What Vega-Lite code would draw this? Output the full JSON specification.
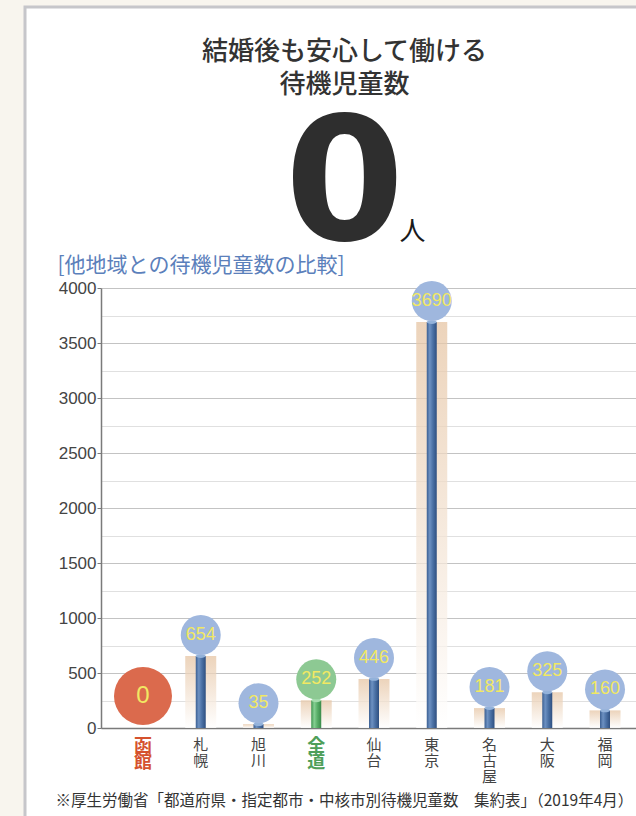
{
  "$schema": "https://vega.github.io/schema/vega-lite/v6.json",
  "autosize": {"type": "none"},
  "width": 615,
  "height": 813,
  "padding": {"left": 25, "top": 7, "right": -4, "bottom": -4},
  "background": "#f8f5ee",
  "config": {"view": {"fill": "#ffffff", "stroke": "#c6c6ca", "strokeWidth": 3}},
  "title": {
    "text": ["結婚後も安心して働ける", "待機児童数"],
    "subtitle": "0",
    "anchor": "middle",
    "frame": "group",
    "orient": "top",
    "dx": 12,
    "offset": -267,
    "font": "Noto Sans CJK JP",
    "fontSize": 26,
    "fontWeight": 500,
    "color": "#333333",
    "lineHeight": 33,
    "subtitleFont": "DejaVu Sans",
    "subtitleFontSize": 172,
    "subtitleFontWeight": "bold",
    "subtitleColor": "#2e2e2e",
    "subtitlePadding": 6,
    "subtitleLineHeight": 150
  },
  "data": {
    "values": [
      {"city": "函館", "value": 0},
      {"city": "札幌", "value": 654},
      {"city": "旭川", "value": 35},
      {"city": "全道", "value": 252},
      {"city": "仙台", "value": 446},
      {"city": "東京", "value": 3690},
      {"city": "名古屋", "value": 181},
      {"city": "大阪", "value": 325},
      {"city": "福岡", "value": 160}
    ]
  },
  "encoding": {
    "x": {
      "field": "city",
      "type": "nominal",
      "sort": null,
      "scale": {"range": [76, 622], "paddingInner": 0, "paddingOuter": 0.227},
      "axis": {
        "orient": "bottom",
        "offset": -92,
        "domainColor": "#7a7a7a",
        "domainWidth": 1.5,
        "ticks": false,
        "grid": false,
        "labelAngle": 0,
        "labelOverlap": false,
        "labelExpr": "split(datum.label, '')",
        "labelFont": "Noto Sans CJK JP",
        "labelFontSize": {"condition": {"test": "datum.value === '函館' || datum.value === '全道'", "value": 18}, "value": 15},
        "labelFontWeight": {"condition": {"test": "datum.value === '函館' || datum.value === '全道'", "value": "bold"}, "value": "normal"},
        "labelColor": {"condition": [{"test": "datum.value === '函館'", "value": "#d5522e"}, {"test": "datum.value === '全道'", "value": "#4f9f5a"}], "value": "#444444"},
        "labelLineHeight": 16,
        "labelPadding": 9,
        "labelBaseline": "top",
        "title": "※厚生労働省「都道府県・指定都市・中核市別待機児童数　集約表」（2019年4月）",
        "titleX": 30,
        "titleY": 72,
        "titleAlign": "left",
        "titleAnchor": "start",
        "titleBaseline": "middle",
        "titleFont": "Noto Sans CJK JP",
        "titleFontSize": 15.5,
        "titleFontWeight": "normal",
        "titleColor": "#333333"
      }
    }
  },
  "layer": [
    {
      "mark": {
        "type": "bar",
        "width": 31,
        "opacity": 0.75,
        "fill": {"gradient": "linear", "x1": 0, "y1": 0, "x2": 0, "y2": 1, "stops": [{"offset": 0, "color": "#e6c5a4"}, {"offset": 1, "color": "#ffffff"}]}
      },
      "encoding": {
        "y": {
          "field": "value",
          "type": "quantitative",
          "scale": {"domain": [0, 4000], "range": [721, 281], "nice": false, "zero": true},
          "axis": {
            "orient": "left",
            "offset": -76,
            "values": [0, 250, 500, 750, 1000, 1250, 1500, 1750, 2000, 2250, 2500, 2750, 3000, 3250, 3500, 3750, 4000],
            "format": "d",
            "labelExpr": "datum.value % 500 === 0 ? datum.label : ''",
            "labelOverlap": false,
            "grid": true,
            "gridColor": {"condition": {"test": "datum.value % 500 === 0", "value": "#c3c3c3"}, "value": "#e0e0e0"},
            "gridWidth": 1.2,
            "domainColor": "#7a7a7a",
            "domainWidth": 1.5,
            "tickColor": "#7a7a7a",
            "tickSize": 4,
            "tickOpacity": {"condition": {"test": "datum.value % 500 === 0", "value": 1}, "value": 0},
            "labelFont": "Liberation Sans",
            "labelFontSize": 17,
            "labelColor": "#444444",
            "labelPadding": 1,
            "title": "[他地域との待機児童数の比較]",
            "titleX": -44,
            "titleY": 258,
            "titleAngle": 0,
            "titleAlign": "left",
            "titleBaseline": "middle",
            "titleFont": "Noto Sans CJK JP",
            "titleFontSize": 21,
            "titleFontWeight": "normal",
            "titleColor": "#5b80bb"
          }
        }
      }
    },
    {
      "transform": [{"filter": "datum.value > 0"}],
      "mark": {"type": "bar", "width": 10},
      "encoding": {
        "y": {
          "field": "value",
          "type": "quantitative",
          "axis": {
            "orient": "left",
            "offset": 0,
            "domain": false,
            "ticks": false,
            "labels": false,
            "grid": false,
            "title": "人",
            "titleX": 387,
            "titleY": 224,
            "titleAngle": 0,
            "titleAlign": "center",
            "titleBaseline": "middle",
            "titleFont": "Noto Sans CJK JP",
            "titleFontSize": 26,
            "titleFontWeight": "normal",
            "titleColor": "#1a1a1a"
          }
        },
        "color": {
          "condition": {
            "test": "datum.city === '全道'",
            "value": {"gradient": "linear", "x1": 0, "y1": 0, "x2": 1, "y2": 0, "stops": [{"offset": 0, "color": "#3e9450"}, {"offset": 0.3, "color": "#86cf92"}, {"offset": 0.6, "color": "#5bb06a"}, {"offset": 1, "color": "#3a8a4a"}]}
          },
          "value": {"gradient": "linear", "x1": 0, "y1": 0, "x2": 1, "y2": 0, "stops": [{"offset": 0, "color": "#3b5f92"}, {"offset": 0.3, "color": "#6d91c2"}, {"offset": 0.6, "color": "#4c72a6"}, {"offset": 1, "color": "#2e4f80"}]}
        }
      }
    },
    {
      "transform": [{"filter": "datum.value > 0"}],
      "mark": {"type": "point", "shape": "M-1,0A1,0.38,0,1,0,1,0A1,0.38,0,1,0,-1,0Z", "size": 100, "filled": true, "opacity": 1},
      "encoding": {
        "y": {"field": "value", "type": "quantitative", "axis": null},
        "color": {"condition": {"test": "datum.city === '全道'", "value": "#a5dcae"}, "value": "#93b2da"}
      }
    },
    {
      "transform": [{"filter": "datum.city !== '函館'"}],
      "mark": {"type": "point", "shape": "circle", "size": 1600, "filled": true, "opacity": 1, "yOffset": -21},
      "encoding": {
        "y": {"field": "value", "type": "quantitative", "axis": null},
        "color": {"condition": {"test": "datum.city === '全道'", "value": "#8dc993"}, "value": "#9fb7de"}
      }
    },
    {
      "transform": [{"filter": "datum.city === '函館'"}],
      "mark": {"type": "point", "shape": "circle", "size": 3364, "filled": true, "opacity": 1, "yOffset": -32, "color": "#db6a4d"},
      "encoding": {
        "y": {"field": "value", "type": "quantitative", "axis": null}
      }
    },
    {
      "transform": [{"filter": "datum.city !== '函館'"}],
      "mark": {"type": "text", "yOffset": -21, "fontSize": 18, "font": "Liberation Sans", "color": "#f1e863", "baseline": "middle", "align": "center"},
      "encoding": {
        "y": {"field": "value", "type": "quantitative", "axis": null},
        "text": {"field": "value", "type": "quantitative", "format": "d"}
      }
    },
    {
      "transform": [{"filter": "datum.city === '函館'"}],
      "mark": {"type": "text", "yOffset": -32, "fontSize": 24, "font": "Liberation Sans", "color": "#f1e863", "baseline": "middle", "align": "center"},
      "encoding": {
        "y": {"field": "value", "type": "quantitative", "axis": null},
        "text": {"field": "value", "type": "quantitative", "format": "d"}
      }
    }
  ],
  "resolve": {"axis": {"y": "independent"}}
}
